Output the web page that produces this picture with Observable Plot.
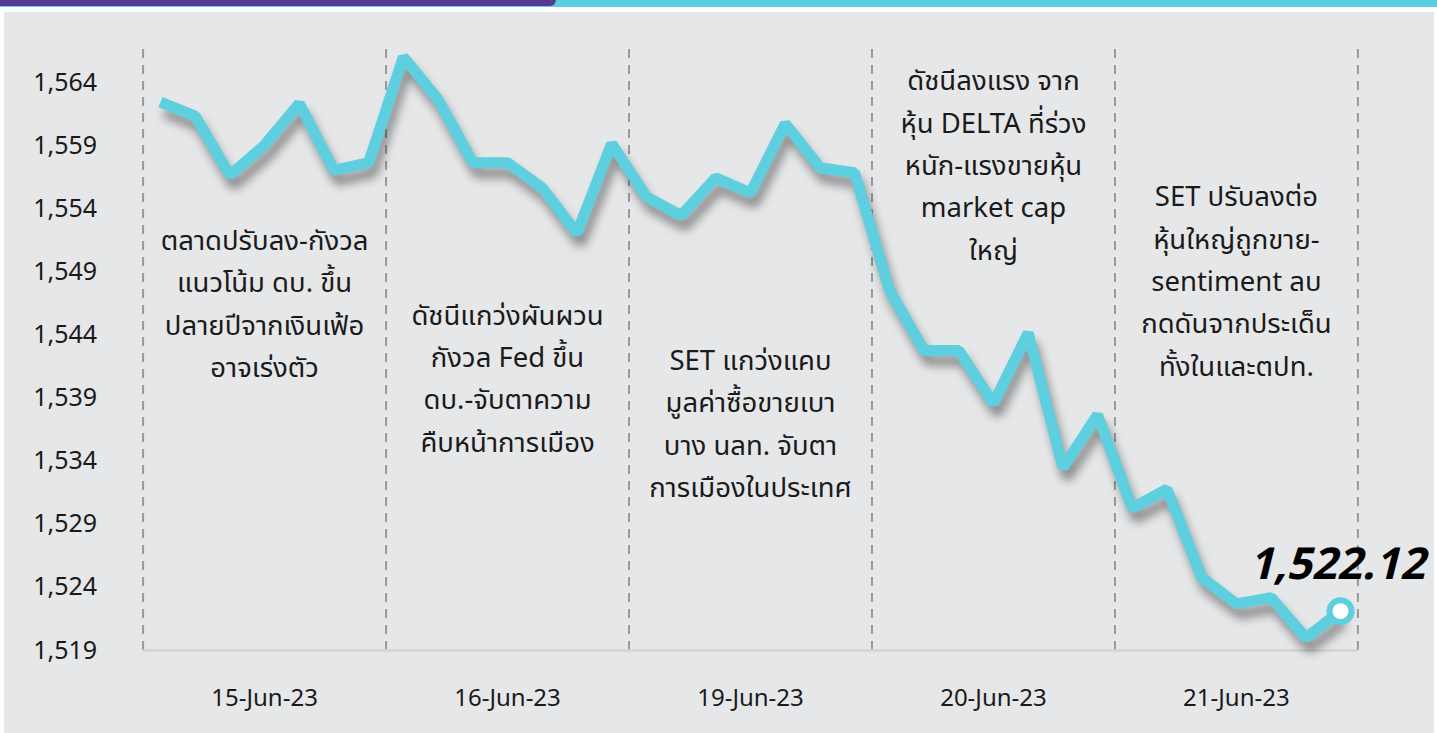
<!DOCTYPE html>
<html>
<head>
<meta charset="utf-8">
<script src="https://cdn.jsdelivr.net/npm/d3@7"></script>
<script src="https://cdn.jsdelivr.net/npm/@observablehq/plot@0.6"></script>
<style>
  html, body { margin: 0; padding: 0; background: #ffffff; width: 1437px; height: 733px; overflow: hidden; }
  #topPurple { position: absolute; left: 0; top: 0; width: 556px; height: 6px; background: #573a94; border-bottom-right-radius: 10px; z-index: 2; }
  #topCyan { position: absolute; left: 0; top: 0; width: 1437px; height: 7px; background: #5bcfe0; z-index: 1; }
  #panel { position: absolute; left: 4px; top: 12px; width: 1430px; height: 730px; background: #e6e7e9; }
  #chart { position: absolute; left: 0; top: 0; }
  #chart svg { font-family: "Noto Sans Thai", "Noto Sans", sans-serif; }
</style>
</head>
<body>
<div id="topCyan"></div>
<div id="topPurple"></div>
<div id="panel"></div>
<div id="chart"></div>
<script>
// SET index, intraday (7 points per trading day)
const dayLabels = ["15-Jun-23", "16-Jun-23", "19-Jun-23", "20-Jun-23", "21-Jun-23"];
const pointsPerDay = 7;
const setValues = [
  1562.5, 1561.4, 1556.7, 1559.1, 1562.4, 1557.1, 1557.7,
  1566.1, 1562.7, 1557.7, 1557.7, 1555.7, 1552.1, 1559.2,
  1555.0, 1553.5, 1556.5, 1555.3, 1560.8, 1557.3, 1556.9,
  1547.6, 1542.8, 1542.8, 1538.6, 1544.2, 1533.5, 1537.7,
  1530.3, 1531.8, 1524.8, 1522.7, 1523.2, 1520.0, 1522.12
];
const yTicks = [1519, 1524, 1529, 1534, 1539, 1544, 1549, 1554, 1559, 1564];
const notes = [
  "ตลาดปรับลง-กังวล\nแนวโน้ม ดบ. ขึ้น\nปลายปีจากเงินเฟ้อ\nอาจเร่งตัว",
  "ดัชนีแกว่งผันผวน\nกังวล Fed ขึ้น\nดบ.-จับตาความ\nคืบหน้าการเมือง",
  "SET แกว่งแคบ\nมูลค่าซื้อขายเบา\nบาง นลท. จับตา\nการเมืองในประเทศ",
  "ดัชนีลงแรง จาก\nหุ้น DELTA ที่ร่วง\nหนัก-แรงขายหุ้น\nmarket cap\nใหญ่",
  "SET ปรับลงต่อ\nหุ้นใหญ่ถูกขาย-\nsentiment ลบ\nกดดันจากประเด็น\nทั้งในและตปท."
];
const noteLevels = [1546.8, 1540.9, 1537.3, 1557.8, 1548.6];

const data = setValues.map((v, i) => ({i, v}));
const nDays = dayLabels.length;
const boundaries = d3.range(nDays + 1).map(d => d * pointsPerDay - 0.5);
const dayCenters = d3.range(nDays).map(d => d * pointsPerDay + (pointsPerDay - 1) / 2);
const noteData = notes.map((t, k) => ({x: dayCenters[k], y: noteLevels[k], t}));
const last = data[data.length - 1];

const cyan = "#5ecfdf";

const chart = Plot.plot({
  width: 1437,
  height: 733,
  marginLeft: 142.6,
  marginRight: 79.6,
  marginTop: 45,
  marginBottom: 83,
  style: {background: "transparent", color: "#1a1a1a", overflow: "visible"},
  x: {domain: [-0.5, data.length - 0.5], axis: null},
  y: {domain: [1519, 1567], axis: null},
  marks: [
    Plot.ruleX(boundaries, {stroke: "#9a9a9c", strokeWidth: 2, strokeDasharray: "9,7", y1: 1519, y2: 1567}),
    Plot.ruleY([1519], {stroke: "#d2d3d5", strokeWidth: 2.5}),
    Plot.axisY({ticks: yTicks, tickSize: 0, tickPadding: 46, fontSize: 25, tickFormat: d3.format(","), fill: "#1a1a1a"}),
    Plot.axisX({ticks: dayCenters, tickSize: 0, tickPadding: 38, fontSize: 24, tickFormat: (d) => dayLabels[dayCenters.indexOf(d)], fill: "#1a1a1a"}),
    Plot.text(noteData, {x: "x", y: "y", text: "t", fontSize: 27.5, lineHeight: 1.54, fill: "#1a1a1a", textAnchor: "middle", lineAnchor: "middle"}),
    Plot.line(data, {x: "i", y: "v", stroke: cyan, strokeWidth: 11, strokeLinejoin: "miter", strokeLinecap: "butt"}),
    Plot.dot([last], {x: "i", y: "v", r: 11, fill: "white", stroke: cyan, strokeWidth: 6}),
    Plot.text([last], {x: "i", y: "v", text: d => d3.format(",.2f")(d.v), fontSize: 44, fontWeight: "bold", fontStyle: "italic", fill: "#000", dy: -46, dx: -4})
  ]
});
document.getElementById("chart").appendChild(chart);
d3.select(chart).selectAll("g[aria-label='line']").style("filter", "drop-shadow(4px 10px 5px rgba(0,0,0,0.38))");
</script>
</body>
</html>
